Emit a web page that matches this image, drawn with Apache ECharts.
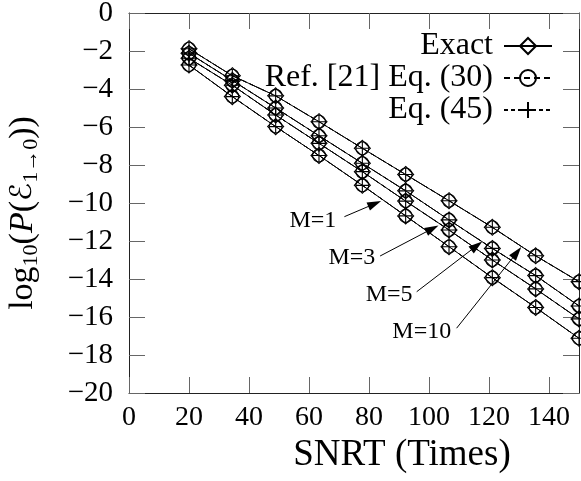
<!DOCTYPE html>
<html>
<head>
<meta charset="utf-8">
<script src="https://cdn.jsdelivr.net/npm/echarts@6/dist/echarts.min.js"></script>
<style>
  html, body { margin: 0; padding: 0; background: #fff; }
  #chart { width: 581px; height: 481px; }
</style>
</head>
<body>
<div id="chart"></div>
<script>
// SNRT sample points (times)
const snrt = [20, 34.44, 48.89, 63.33, 77.78, 92.22, 106.67, 121.11, 135.56, 150];

// log10 of the 1 -> 0 error probability for each M
const logPM1  = [-2.74, -4.40, -5.98, -7.50, -9.07, -10.68, -12.30, -13.93, -15.50, -17.12];
const logPM3  = [-2.38, -3.80, -5.37, -6.86, -8.35, -9.90, -11.42, -13.00, -14.52, -16.10];
const logPM5  = [-2.12, -3.55, -5.00, -6.46, -7.91, -9.36, -10.89, -12.39, -13.82, -15.42];
const logPM10 = [-1.88, -3.30, -4.36, -5.72, -7.12, -8.50, -9.88, -11.28, -12.78, -14.14];

const curves = [
  { label: 'M=1',  values: logPM1 },
  { label: 'M=3',  values: logPM3 },
  { label: 'M=5',  values: logPM5 },
  { label: 'M=10', values: logPM10 }
];

const methodNames = ['Exact', 'Ref. [21] Eq. (30)', 'Eq. (45)'];

// Curve call-outs: text anchor, arrow tail and arrow head (data units)
const callouts = [
  { text: 'M=1',  at: [61.3, -10.95], from: [71.8, -10.72],  to: [81.9, -10.04] },
  { text: 'M=3',  at: [74.3, -12.89], from: [83.7, -12.79],  to: [101.1, -11.35] },
  { text: 'M=5',  at: [86.7, -14.84], from: [95.9, -14.67],  to: [115.9, -12.25] },
  { text: 'M=10', at: [97.6, -16.79], from: [109.2, -16.59], to: [129.3, -12.61] }
];

const SERIF = 'Liberation Serif';

const methodStyles = [
  { symbol: 'diamond', size: 16, dash: 'solid' },
  { symbol: 'circle', size: 13, dash: [6, 4] },
  { symbol: 'path://M5,0L5,10M0,5L10,5', size: 13, dash: [4, 3] }
];

const series = [];
methodNames.forEach((name, mi) => {
  const st = methodStyles[mi];
  curves.forEach((c) => {
    series.push({
      type: 'line',
      name: name,
      data: snrt.map((x, i) => [x, c.values[i]]),
      symbol: st.symbol,
      symbolSize: st.size,
      showAllSymbol: true,
      clip: false,
      lineStyle: { color: '#000', width: 1, type: st.dash },
      itemStyle: { color: 'rgba(0,0,0,0)', borderColor: '#000', borderWidth: 1.1 },
      emphasis: { disabled: true },
      silent: true
    });
  });
});

// arrows and labels for the M call-outs
series.push({
  type: 'line',
  name: 'callouts',
  data: [],
  silent: true,
  markLine: {
    silent: true,
    animation: false,
    symbol: ['none', 'path://M5,0L10,16L0,16Z'],
    symbolSize: 14,
    symbolKeepAspect: true,
    lineStyle: { color: '#000', width: 1, type: 'solid' },
    itemStyle: { color: '#000' },
    label: { show: false },
    data: callouts.map(c => [{ coord: c.from }, { coord: c.to }])
  },
  markPoint: {
    silent: true,
    animation: false,
    symbol: 'circle',
    symbolSize: 0,
    label: {
      show: true,
      position: 'inside',
      formatter: p => p.name,
      fontFamily: SERIF,
      fontSize: 24,
      color: '#000'
    },
    data: callouts.map(c => ({ name: c.text, coord: c.at }))
  }
});

const tickColor = '#666';
const baseX = {
  type: 'value', min: 0, max: 150, interval: 20,
  axisLine: { show: true, onZero: false, lineStyle: { color: '#222', width: 1 } },
  axisTick: { show: true, inside: true, length: 16, lineStyle: { color: tickColor, width: 1 } },
  splitLine: { show: false }
};
const baseY = {
  type: 'value', min: -20, max: 0, interval: 2,
  axisLine: { show: true, onZero: false, lineStyle: { color: '#222', width: 1 } },
  axisTick: { show: true, inside: true, length: 16, lineStyle: { color: tickColor, width: 1 } },
  splitLine: { show: false }
};

const option = {
  animation: false,
  backgroundColor: '#fff',
  grid: { left: 129, right: 2, top: 13, bottom: 88, containLabel: false, outerBoundsMode: 'none' },
  legend: {
    data: methodNames,
    orient: 'vertical',
    right: 28,
    top: 30,
    padding: 0,
    itemGap: 0,
    align: 'right',
    itemWidth: 48,
    itemHeight: 20,
    selectedMode: false,
    textStyle: { fontFamily: SERIF, fontSize: 32, color: '#000', lineHeight: 29, padding: [0, 6, 0, 0] }
  },
  xAxis: [
    Object.assign({}, baseX, {
      position: 'bottom',
      name: 'SNRT (Times)',
      nameLocation: 'middle',
      nameGap: 35,
      nameTextStyle: { fontFamily: SERIF, fontSize: 37, color: '#000', padding: [0, 0, 0, 96] },
      axisLabel: { fontFamily: SERIF, fontSize: 28, color: '#000', margin: 11, showMaxLabel: false }
    }),
    Object.assign({}, baseX, { position: 'top', axisLabel: { show: false } })
  ],
  yAxis: [
    Object.assign({}, baseY, {
      position: 'left',
      name: '{t|log}{s|10}{t|(}{i|P}{t|(}{e|ℰ}{s|1→0}{t|))}',
      nameLocation: 'middle',
      nameGap: 87,
      nameTextStyle: {
        color: '#000',
        padding: [0, 20, 0, 0],
        rich: {
          t: { fontFamily: SERIF, fontSize: 34, color: '#000' },
          i: { fontFamily: SERIF, fontSize: 34, fontStyle: 'italic', color: '#000' },
          e: { fontFamily: 'DejaVu Sans', fontSize: 30, color: '#000' },
          s: { fontFamily: SERIF, fontSize: 22, color: '#000', padding: [15, 0, 0, 0] }
        }
      },
      axisLabel: {
        fontFamily: SERIF, fontSize: 29, color: '#000', margin: 16,
        formatter: v => String(v).replace('-', '\u2212')
      }
    }),
    Object.assign({}, baseY, { position: 'right', axisLabel: { show: false } })
  ],
  series: series
};

const chart = echarts.init(document.getElementById('chart'), null, { renderer: 'canvas' });
chart.setOption(option);
</script>
</body>
</html>
